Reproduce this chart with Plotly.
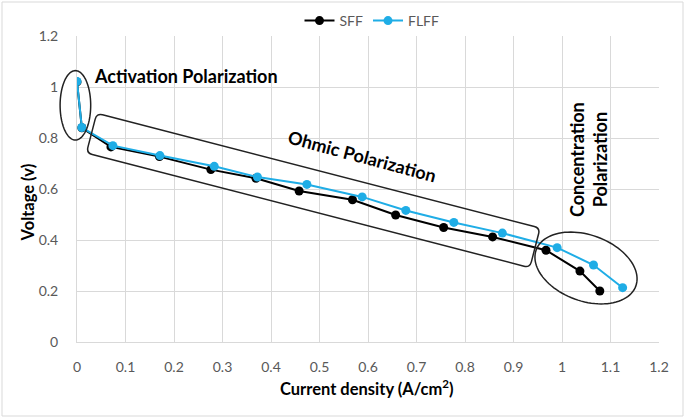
import math
import plotly.graph_objects as go

# ---- data ----
x_sff = [0, 0.01, 0.07, 0.17, 0.276, 0.369, 0.458, 0.568, 0.657, 0.756, 0.857, 0.967, 1.037, 1.078]
y_sff = [1.02, 0.84, 0.765, 0.727, 0.676, 0.642, 0.592, 0.558, 0.498, 0.449, 0.412, 0.360, 0.278, 0.200]
x_flff = [0, 0.01, 0.074, 0.171, 0.283, 0.372, 0.474, 0.588, 0.678, 0.777, 0.877, 0.990, 1.065, 1.125]
y_flff = [1.022, 0.841, 0.770, 0.731, 0.689, 0.647, 0.618, 0.569, 0.516, 0.469, 0.427, 0.370, 0.302, 0.213]
x_ticks = [0, 0.1, 0.2, 0.3, 0.4, 0.5, 0.6, 0.7, 0.8, 0.9, 1, 1.1, 1.2]
x_tick_labels = ["0", "0.1", "0.2", "0.3", "0.4", "0.5", "0.6", "0.7", "0.8", "0.9", "1", "1.1", "1.2"]
y_ticks = [0, 0.2, 0.4, 0.6, 0.8, 1.0, 1.2]
y_tick_labels = ["0", "0.2", "0.4", "0.6", "0.8", "1", "1.2"]

W, H = 685, 418
ML, MR, MT, MB = 77, 26, 36, 76
PW, PH = W - ML - MR, H - MT - MB


def paper(px, py):
    """pixel -> paper coordinates (used for annotation shapes / texts only)"""
    return ((px - ML) / PW, (H - MB - py) / PH)


def fmt(p):
    return f"{p[0]:.5f},{p[1]:.5f}"


# rounded rotated rectangle (Ohmic)
ang = math.radians(14.5)
u = (math.cos(ang), math.sin(ang))
v = (-math.sin(ang), math.cos(ang))
TL = (96.7, 113.3)
RW, RH, RR = 458, 41, 6


def P(s, t):
    return paper(TL[0] + s * u[0] + t * v[0], TL[1] + s * u[1] + t * v[1])


rect_path = (
    f"M {fmt(P(RR,0))} L {fmt(P(RW-RR,0))} Q {fmt(P(RW,0))} {fmt(P(RW,RR))} "
    f"L {fmt(P(RW,RH-RR))} Q {fmt(P(RW,RH))} {fmt(P(RW-RR,RH))} "
    f"L {fmt(P(RR,RH))} Q {fmt(P(0,RH))} {fmt(P(0,RH-RR))} "
    f"L {fmt(P(0,RR))} Q {fmt(P(0,0))} {fmt(P(RR,0))} Z"
)


def ellipse_path(cx, cy, ea, eb, deg):
    th = math.radians(deg)
    pts = []
    for i in range(97):
        t = 2 * math.pi * i / 96
        px = cx + ea * math.cos(t) * math.cos(th) - eb * math.sin(t) * math.sin(th)
        py = cy + ea * math.cos(t) * math.sin(th) + eb * math.sin(t) * math.cos(th)
        pts.append(fmt(paper(px, py)))
    return "M " + " L ".join(pts) + " Z"


conc_path = ellipse_path(586, 268, 53, 33, 20)
act_path = ellipse_path(75.4, 105.3, 15.3, 34.7, 0)

FONT = "Lato"
BLUE = "#1FADE6"
EDGE = "#222222"

fig = go.Figure()
fig.add_trace(go.Scatter(x=x_sff, y=y_sff, mode="lines+markers", name="SFF",
                         line=dict(color="black", width=2),
                         marker=dict(color="black", size=9)))
fig.add_trace(go.Scatter(x=x_flff, y=y_flff, mode="lines+markers", name="FLFF",
                         line=dict(color=BLUE, width=2),
                         marker=dict(color=BLUE, size=9)))

shapes = [
    dict(type="path", path=rect_path, xref="paper", yref="paper", line=dict(color=EDGE, width=1.5)),
    dict(type="path", path=conc_path, xref="paper", yref="paper", line=dict(color=EDGE, width=1.5)),
    dict(type="path", path=act_path, xref="paper", yref="paper", line=dict(color=EDGE, width=1.5)),
]
b0 = paper(2, 416)
b1 = paper(683, 2)
shapes.append(dict(type="rect", xref="paper", yref="paper", x0=b0[0], y0=b0[1],
                   x1=b1[0], y1=b1[1], line=dict(color="#D9D9D9", width=1),
                   layer="below"))

ann = []


def add_text(px, py, text, size, color="black", angle=0):
    p = paper(px, py)
    ann.append(dict(x=p[0], y=p[1], xref="paper", yref="paper", text=text,
                    showarrow=False, textangle=angle, xanchor="center", yanchor="middle",
                    font=dict(family=FONT, size=size, color=color)))


add_text(186, 76, "<b>Activation Polarization</b>", 18)
add_text(362, 156, "<b>Ohmic Polarization</b>", 18, angle=15)
add_text(588, 160, "<b>Concentration</b><br><b>Polarization</b>", 18, angle=-90)
add_text(367, 388, "<b>Current density (A/cm<sup>2</sup>)</b>", 16.5)
add_text(27.5, 203, "<b>Voltage (v)</b>", 16.5, angle=-90)

lp = paper(372, 21)
fig.update_layout(
    width=W, height=H,
    margin=dict(l=ML, r=MR, t=MT, b=MB, autoexpand=False),
    paper_bgcolor="white", plot_bgcolor="white",
    font=dict(family=FONT, color="#595959", size=14),
    shapes=shapes, annotations=ann,
    showlegend=True,
    legend=dict(orientation="h", x=lp[0], y=lp[1], xanchor="center", yanchor="middle",
                font=dict(family=FONT, size=14, color="#595959"), itemwidth=30,
                bgcolor="rgba(0,0,0,0)"),
    xaxis=dict(range=[0, 1.2], tickvals=x_ticks, ticktext=x_tick_labels,
               showgrid=True, gridcolor="#D9D9D9", gridwidth=1, zeroline=False,
               showline=True, linecolor="#D9D9D9", ticks="", ticklabelstandoff=12,
               automargin=False),
    yaxis=dict(range=[0, 1.2], tickvals=y_ticks, ticktext=y_tick_labels,
               showgrid=True, gridcolor="#D9D9D9", gridwidth=1, zeroline=False,
               showline=True, linecolor="#D9D9D9", ticks="", ticklabelstandoff=15,
               automargin=False),
)

fig.write_html("out.html", config={"displayModeBar": False},
               post_script="document.body.style.margin='0';")
